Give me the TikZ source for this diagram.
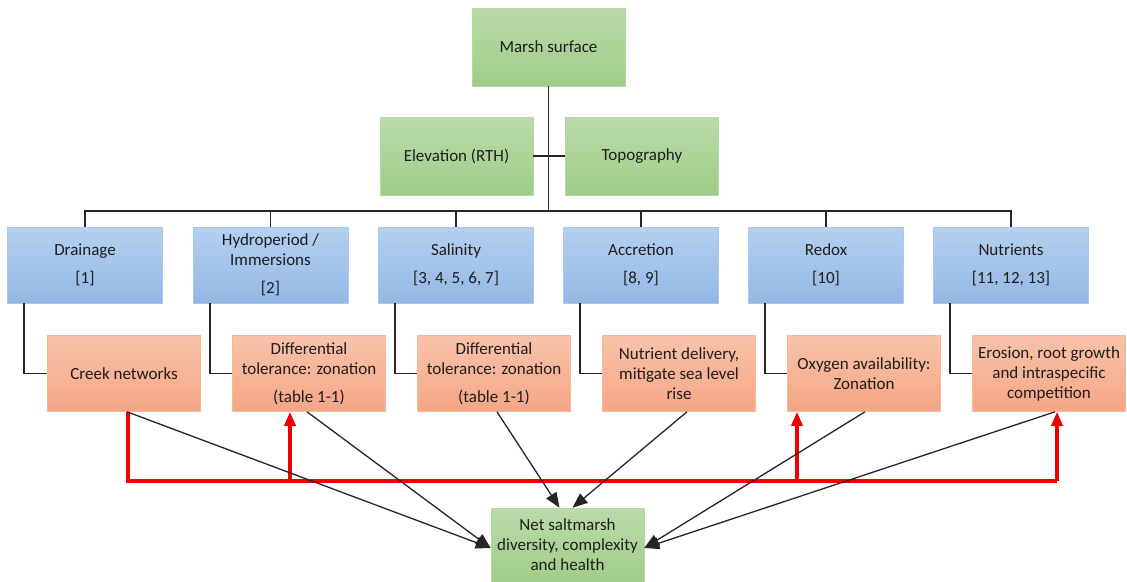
\documentclass[tikz,border=0pt]{standalone}
\usepackage{fontspec}
\setmainfont{Carlito}
\usetikzlibrary{arrows.meta,calc}
\definecolor{gtop}{HTML}{BADBA9}
\definecolor{gbot}{HTML}{9FCC88}
\definecolor{gline}{HTML}{B4D9A0}
\definecolor{btop}{HTML}{B5D0F0}
\definecolor{bbot}{HTML}{93B7E4}
\definecolor{bline}{HTML}{A9C8EE}
\definecolor{otop}{HTML}{F9C3AA}
\definecolor{obot}{HTML}{F4A584}
\definecolor{oline}{HTML}{F6B79A}
\definecolor{txt}{HTML}{1E1E1E}
\definecolor{redline}{HTML}{F20000}
\definecolor{conn}{HTML}{262626}
\begin{document}
\begin{tikzpicture}[x=1pt,y=-1pt,
  box/.style={rectangle, minimum width=153pt, minimum height=76pt, inner sep=2pt,
    align=center, text=txt, font=\fontsize{17}{20}\selectfont, line width=0.6pt},
  gbox/.style={box, top color=gtop, bottom color=gbot, draw=gline, minimum height=78pt},
  bbox/.style={box, top color=btop, bottom color=bbot, draw=bline, minimum width=155pt},
  obox/.style={box, top color=otop, bottom color=obot, draw=oline},
  tree/.style={draw=conn, line width=1.6pt},
  blk/.style={draw=conn, line width=1.3pt, -{Triangle[length=15pt,width=12pt]}},
  redl/.style={draw=redline, line width=3.2pt},
  reda/.style={redl, -{Triangle[length=14pt,width=11pt]}}
]
\useasboundingbox (0,0) rectangle (1127,581);
\fill[white] (0,0) rectangle (1127,581);

% green top
\node[gbox] (marsh) at (548.5,47) {Marsh surface};
\node[gbox] (elev) at (456.5,156) {Elevation (RTH)};
\node[gbox] (topo) at (642,156) {Topography};

% blue row
\node[bbox] (drain) at (85,265) {Drainage\\[8pt][1]};
\node[bbox] (hydro) at (270.5,265) {Hydroperiod /\\Immersions\\[8pt][2]};
\node[bbox] (salin) at (456,265) {Salinity\\[8pt][3, 4, 5, 6, 7]};
\node[bbox] (accr) at (641,265) {Accretion\\[8pt][8, 9]};
\node[bbox] (redox) at (826,265) {Redox\\[8pt][10]};
\node[bbox] (nutr) at (1011,265) {Nutrients\\[8pt][11, 12, 13]};

% orange row
\node[obox] (creek) at (124,373.5) {Creek networks};
\node[obox] (diffa) at (309,373.5) {Differential\\tolerance: zonation\\[8pt](table 1-1)};
\node[obox] (diffb) at (494,373.5) {Differential\\tolerance: zonation\\[8pt](table 1-1)};
\node[obox] (deliv) at (679,373.5) {Nutrient delivery,\\mitigate sea level\\rise};
\node[obox] (oxy) at (864,373.5) {Oxygen availability:\\Zonation};
\node[obox] (eros) at (1049,373.5) {Erosion, root growth\\and intraspecific\\competition};

% bottom green
\node[gbox, minimum height=74pt] (net) at (567.5,545) {Net saltmarsh\\diversity, complexity\\and health};

% tree connectors
\coordinate (bus) at (548.5,211);
\draw[tree] (marsh.south) -- (bus);
\draw[tree] (elev.east) -- (topo.west);
\draw[tree] (drain.north) -- (drain.north |- bus) -- (nutr.north |- bus) -- (nutr.north);
\foreach \n in {hydro,salin,accr,redox}
  \draw[tree] (\n.north) -- (\n.north |- bus);

% elbows blue -> orange
\draw[tree] ([xshift=17pt]drain.south west) |- (creek.west);
\draw[tree] ([xshift=17pt]hydro.south west) |- (diffa.west);
\draw[tree] ([xshift=17pt]salin.south west) |- (diffb.west);
\draw[tree] ([xshift=17pt]accr.south west) |- (deliv.west);
\draw[tree] ([xshift=17pt]redox.south west) |- (oxy.west);
\draw[tree] ([xshift=17pt]nutr.south west) |- (eros.west);

% red feedback lines
\coordinate (rl) at (128,481);
\coordinate (rr) at (1057,481);
\coordinate (ra) at (290,481);
\coordinate (rb) at (797,481);
\draw[redl] ([xshift=4pt]creek.south) -- (rl) -- (rr);
\draw[reda] (ra) -- ([xshift=-19pt]diffa.south);
\draw[reda] (rb) -- ([xshift=-67pt]oxy.south);
\draw[reda] (rr) -- ([xshift=8pt]eros.south);

% black arrows to net
\draw[blk] ([xshift=3pt]creek.south) -- ([yshift=-3pt]net.west);
\draw[blk] ([xshift=-2pt]diffa.south) -- ([yshift=-3pt]net.west);
\draw[blk] ([xshift=3pt]diffb.south) -- ([xshift=-8pt]net.north);
\draw[blk] ([xshift=8pt]deliv.south) -- ([xshift=5pt]net.north);
\draw[blk] ([xshift=1pt]oxy.south) -- ([yshift=-3pt]net.east);
\draw[blk] ([xshift=6pt]eros.south) -- ([yshift=-3pt]net.east);
\end{tikzpicture}
\end{document}
